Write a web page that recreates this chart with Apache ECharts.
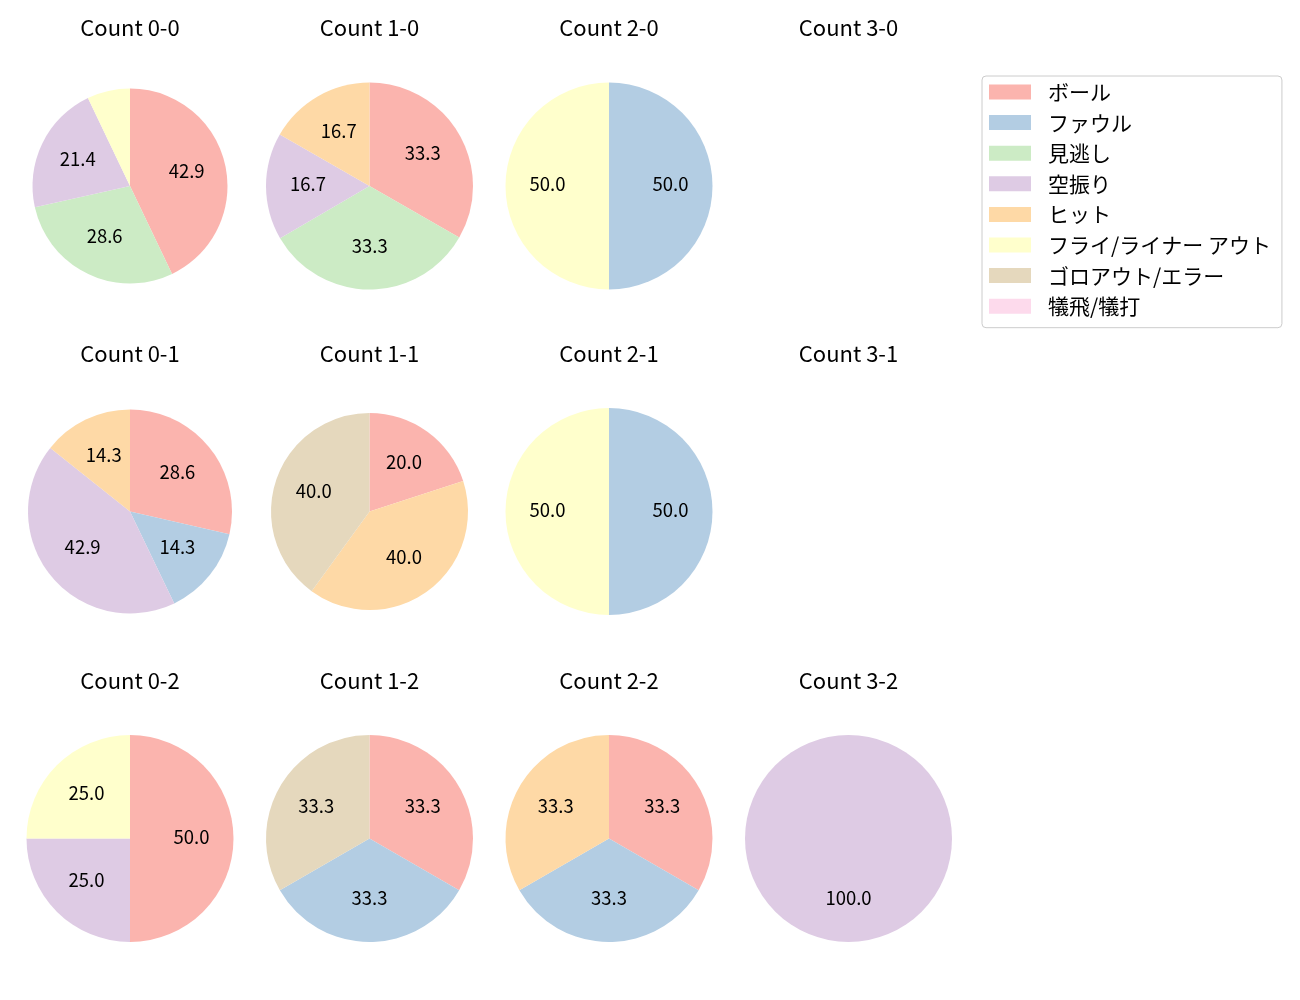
<!DOCTYPE html>
<html>
<head>
<meta charset="utf-8">
<script src="https://cdn.jsdelivr.net/npm/echarts@6/dist/echarts.min.js"></script>
<style>
html,body{margin:0;padding:0;background:#fff;}
#chart{width:1300px;height:1000px;}
</style>
</head>
<body>
<div id="chart"></div>
<script>
// Categories (legend order)
const categories = ['ボール', 'ファウル', '見逃し', '空振り', 'ヒット', 'フライ/ライナー アウト', 'ゴロアウト/エラー', '犠飛/犠打'];
const colors = ['#fbb4ae', '#b3cde3', '#ccebc5', '#decbe4', '#fed9a6', '#ffffcc', '#e5d8bd', '#fddaec'];

// Panel titles (row-major, 3 rows x 4 cols)
const titles = [
  'Count 0-0', 'Count 1-0', 'Count 2-0', 'Count 3-0',
  'Count 0-1', 'Count 1-1', 'Count 2-1', 'Count 3-1',
  'Count 0-2', 'Count 1-2', 'Count 2-2', 'Count 3-2'
];

// Percent values per category for each panel (null = no pie)
const count00 = [42.9, 0, 28.6, 21.4, 0, 7.1, 0, 0];
const count10 = [33.3, 0, 33.3, 16.7, 16.7, 0, 0, 0];
const count20 = [0, 50.0, 0, 0, 0, 50.0, 0, 0];
const count30 = null;
const count01 = [28.6, 14.3, 0, 42.9, 14.3, 0, 0, 0];
const count11 = [20.0, 0, 0, 0, 40.0, 0, 40.0, 0];
const count21 = [0, 50.0, 0, 0, 0, 50.0, 0, 0];
const count31 = null;
const count02 = [50.0, 0, 0, 25.0, 0, 25.0, 0, 0];
const count12 = [33.3, 33.3, 0, 0, 0, 0, 33.3, 0];
const count22 = [33.3, 33.3, 0, 0, 33.3, 0, 0, 0];
const count32 = [0, 0, 0, 100.0, 0, 0, 0, 0];

const panels = [count00, count10, count20, count30, count01, count11, count21, count31, count02, count12, count22, count32];

// Layout (not data)
const colX = [130, 369.5, 609, 848.5];
const rowY = [186, 511.5, 838.5];
const radii = [97.5, 103.5, 103.5, 103.5, 102, 98.5, 103.5, 103.5, 103.5, 103.5, 103.5, 103.5];
const FONT = '"Noto Sans CJK JP", "Noto Sans", sans-serif';

const chart = echarts.init(document.getElementById('chart'), null, {renderer: 'canvas'});

const titleGraphics = titles.map((t, i) => ({
  type: 'text',
  x: colX[i % 4],
  y: rowY[Math.floor(i / 4)] - 158,
  silent: true,
  style: {
    text: t,
    textAlign: 'center',
    textVerticalAlign: 'middle',
    font: '22px ' + FONT,
    fill: '#000'
  }
}));

const series = [];
panels.forEach((vals, i) => {
  if (!vals) return;
  const cx = colX[i % 4], cy = rowY[Math.floor(i / 4)], r = radii[i];
  const data = categories.map((c, k) => ({name: c, value: vals[k], itemStyle: {color: colors[k]}}));
  series.push({
    type: 'pie',
    center: [cx, cy],
    radius: [0, r],
    startAngle: 90,
    clockwise: true,
    avoidLabelOverlap: false,
    animation: false,
    label: {show: false},
    labelLine: {show: false},
    itemStyle: {borderWidth: 0},
    emphasis: {disabled: true},
    data: data
  });
  // label ring: labels placed at midpoint of ring radius
  series.push({
    type: 'pie',
    center: [cx, cy],
    radius: [0.13 * r, r],
    startAngle: 90,
    clockwise: true,
    avoidLabelOverlap: false,
    animation: false,
    silent: true,
    z: 3,
    itemStyle: {color: 'rgba(0,0,0,0)', borderWidth: 0},
    label: {
      show: true,
      position: 'inside',
      fontFamily: FONT,
      fontSize: 18.5,
      color: '#000',
      offset: [0, -2],
      formatter: p => (p.value >= 10 ? p.value.toFixed(1) : '')
    },
    labelLine: {show: false},
    emphasis: {disabled: true},
    data: categories.map((c, k) => ({name: c, value: vals[k]}))
  });
});

chart.setOption({
  backgroundColor: '#fff',
  animation: false,
  graphic: titleGraphics,
  legend: {
    orient: 'vertical',
    left: 982,
    top: 76,
    data: categories.map((c, k) => ({name: c, itemStyle: {color: colors[k]}})),
    itemWidth: 42,
    itemHeight: 15,
    itemGap: 9.6,
    icon: 'rect',
    padding: [5.5, 11, 11, 7],
    borderColor: '#cccccc',
    borderWidth: 1,
    borderRadius: 4,
    backgroundColor: '#fff',
    selectedMode: false,
    textStyle: {fontFamily: FONT, fontSize: 21, color: '#000', lineHeight: 21, padding: [0, 0, 0, 12]}
  },
  series: series
});
</script>
</body>
</html>
